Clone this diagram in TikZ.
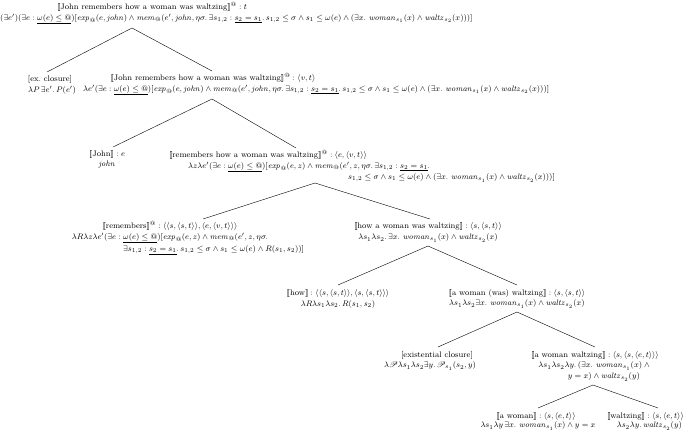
\documentclass[tikz,border=0pt]{standalone}
\usepackage{amsmath,amssymb,mathrsfs}
\newcommand{\sm}[1]{[\![\text{#1}]\!]}
\newcommand{\at}{@}
\newcommand{\mexp}{\mathit{exp}_{\at}}
\newcommand{\mmem}{\mathit{mem}_{\at}}
\newcommand{\wom}[1]{\mathit{woman}_{#1}}
\newcommand{\wal}[1]{\mathit{waltz}_{#1}}
\newcommand{\uo}{\underline{\omega(e)\leq \at}}
\newcommand{\us}{\underline{s_2=s_1}}
\begin{document}
\begin{tikzpicture}[x=1pt,y=-1pt,
  lab/.style={inner sep=0pt,font=\fontsize{8.1}{9.5}\selectfont},
  edge/.style={draw,line width=0.4pt}]
\useasboundingbox (0,0) rectangle (685,430);
% root
\node[lab] (r1) at (152,7) {$\sm{John remembers how a woman was waltzing}^{\at}:t$};
\node[lab,anchor=west] (r2) at (0,19) {$(\exists e')(\exists e:\uo)[\mexp(e,\mathit{john})\wedge\mmem(e',\mathit{john},\eta\sigma.\,\exists s_{1,2}:\us.\,s_{1,2}\leq\sigma\wedge s_1\leq\omega(e)\wedge(\exists x.\ \wom{s_1}(x)\wedge\wal{s_2}(x)))]$};
\coordinate (ra) at (132,28);
% ex closure
\node[lab] (ec1) at (50,79) {[ex.\ closure]};
\node[lab] (ec2) at (52,90) {$\lambda P\,\exists e'.\,P(e')$};
% N2
\node[lab] (n1) at (213,78) {$\sm{John remembers how a woman was waltzing}^{\at}:\langle v,t\rangle$};
\node[lab,anchor=west] (n2) at (83,90) {$\lambda e'(\exists e:\uo)[\mexp(e,\mathit{john})\wedge\mmem(e',\mathit{john},\eta\sigma.\,\exists s_{1,2}:\us.\,s_{1,2}\leq\sigma\wedge s_1\leq\omega(e)\wedge(\exists x.\ \wom{s_1}(x)\wedge\wal{s_2}(x)))]$};
\coordinate (na) at (212,99);
% John
\node[lab] (j1) at (107,155) {$\sm{John}:e$};
\node[lab] (j2) at (107,165) {$\mathit{john}$};
% remembers how
\node[lab] (rh1) at (268,155) {$\sm{remembers how a woman was waltzing}^{\at}:\langle e,\langle v,t\rangle\rangle$};
\node[lab,anchor=west] (rh2) at (188,167) {$\lambda z\lambda e'(\exists e:\uo)[\mexp(e,z)\wedge\mmem(e',z,\eta\sigma.\,\exists s_{1,2}:\us.$};
\node[lab,anchor=west] (rh3) at (348,178) {$s_{1,2}\leq\sigma\wedge s_1\leq\omega(e)\wedge(\exists x.\ \wom{s_1}(x)\wedge\wal{s_2}(x)))]$};
\coordinate (rha) at (315,183);
% remembers
\node[lab] (m1) at (170,226) {$\sm{remembers}^{\at}:\langle\langle s,\langle s,t\rangle\rangle,\langle e,\langle v,t\rangle\rangle\rangle$};
\node[lab] (m2) at (170,238) {$\lambda R\lambda z\lambda e'(\exists e:\uo)[\mexp(e,z)\wedge\mmem(e',z,\eta\sigma.$};
\node[lab,anchor=west] (m3) at (123,250) {$\exists s_{1,2}:\us.\,s_{1,2}\leq\sigma\wedge s_1\leq\omega(e)\wedge R(s_1,s_2))]$};
% how a woman
\node[lab] (h1) at (428,227) {$\sm{how a woman was waltzing}:\langle s,\langle s,t\rangle\rangle$};
\node[lab] (h2) at (428,238) {$\lambda s_1\lambda s_2.\,\exists x.\ \wom{s_1}(x)\wedge\wal{s_2}(x)$};
\coordinate (ha) at (428,246);
% how
\node[lab] (hw1) at (338,293) {$\sm{how}:\langle\langle s,\langle s,t\rangle\rangle,\langle s,\langle s,t\rangle\rangle\rangle$};
\node[lab] (hw2) at (338,304) {$\lambda R\lambda s_1\lambda s_2.\,R(s_1,s_2)$};
% a woman was waltzing
\node[lab] (aw1) at (517,293) {$\sm{a woman (was) waltzing}:\langle s,\langle s,t\rangle\rangle$};
\node[lab] (aw2) at (517,304) {$\lambda s_1\lambda s_2\exists x.\ \wom{s_1}(x)\wedge\wal{s_2}(x)$};
\coordinate (awa) at (517,312);
% existential closure
\node[lab] (xc1) at (437,355) {[existential closure]};
\node[lab] (xc2) at (430,366) {$\lambda\mathscr{P}\lambda s_1\lambda s_2\exists y.\,\mathscr{P}_{s_1}(s_2,y)$};
% a woman waltzing
\node[lab] (ww1) at (595,355) {$\sm{a woman waltzing}:\langle s,\langle s,\langle e,t\rangle\rangle\rangle$};
\node[lab] (ww2) at (595,366) {$\lambda s_1\lambda s_2\lambda y.\,(\exists x.\ \wom{s_1}(x)\wedge{}$};
\node[lab,anchor=east] (ww3) at (640,377) {$y=x)\wedge\wal{s_2}(y)$};
\coordinate (wwa) at (593,385);
% a woman
\node[lab] (a1) at (536,416) {$\sm{a woman}:\langle s,\langle e,t\rangle\rangle$};
\node[lab] (a2) at (538,426) {$\lambda s_1\lambda y\,\exists x.\ \wom{s_1}(x)\wedge y=x$};
% waltzing
\node[lab,anchor=east] (w1) at (684,416) {$\sm{waltzing}:\langle s,\langle e,t\rangle\rangle$};
\node[lab,anchor=east] (w2) at (682,426) {$\lambda s_2\lambda y.\,\wal{s_2}(y)$};
% edges
\draw[edge] (ra) -- (47,72);
\draw[edge] (ra) -- (212,71);
\draw[edge] (na) -- (113,147);
\draw[edge] (na) -- (296,148);
\draw[edge] (rha) -- (203,219);
\draw[edge] (rha) -- (430,219);
\draw[edge] (ha) -- (338,285);
\draw[edge] (ha) -- (517,285);
\draw[edge] (awa) -- (438,347);
\draw[edge] (awa) -- (595,347);
\draw[edge] (wwa) -- (538,408);
\draw[edge] (wwa) -- (658,408);
\end{tikzpicture}
\end{document}
